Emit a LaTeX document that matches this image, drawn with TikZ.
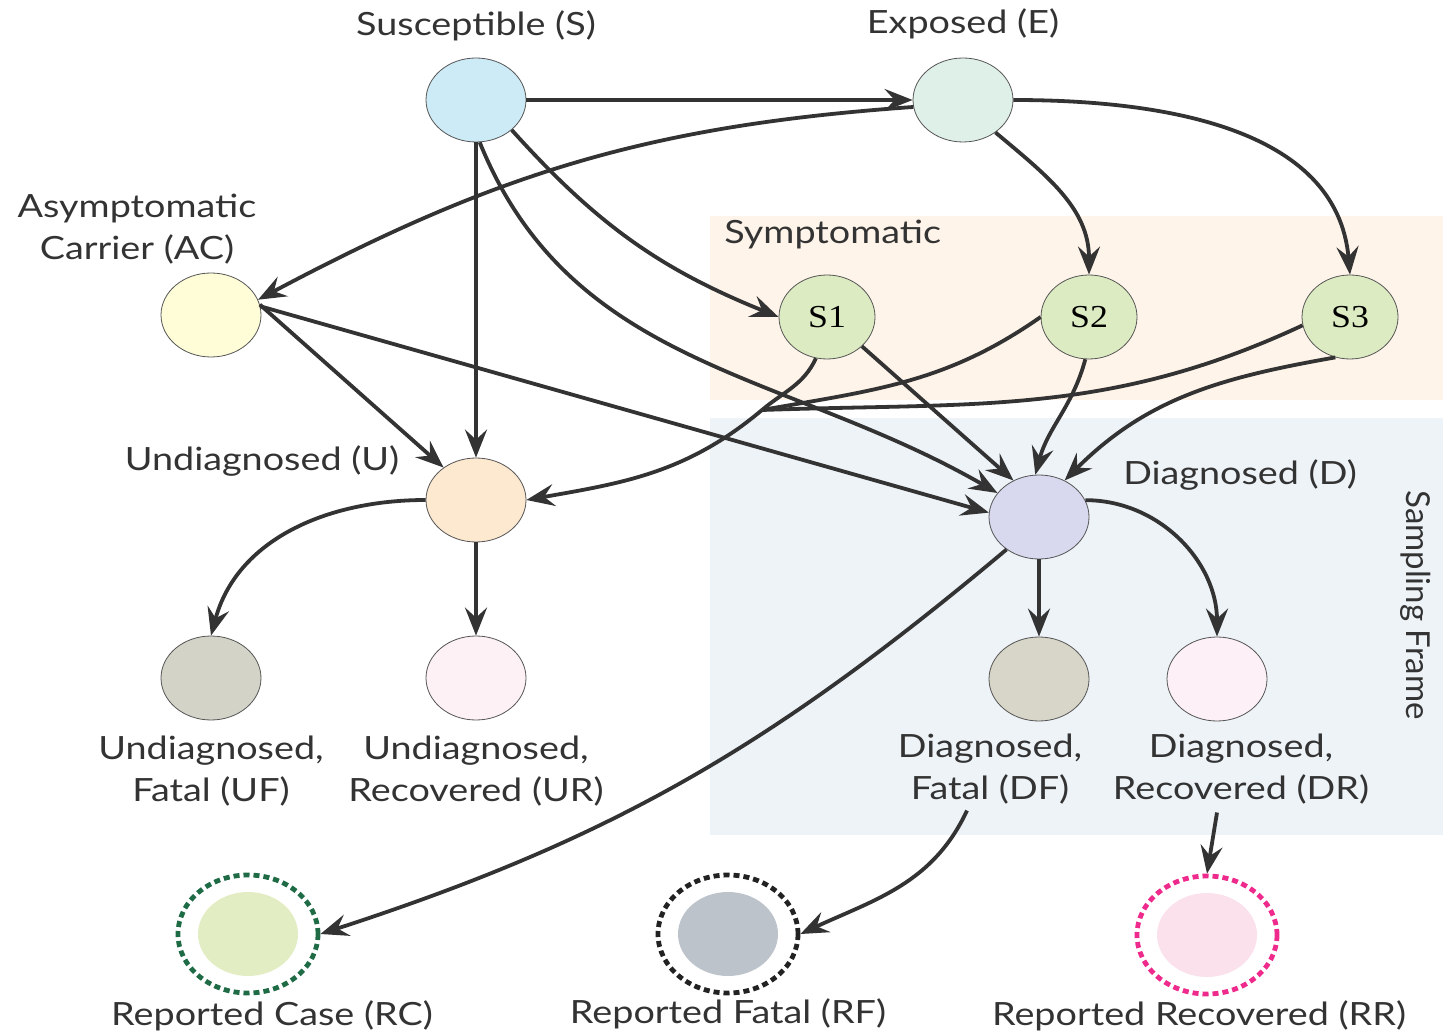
\documentclass[tikz,border=0pt]{standalone}
\usepackage{fontspec}
\setmainfont{Lato}[FakeStretch=1.18]
\newfontfamily\plainfont{Lato}
\newfontfamily\serfont{Liberation Serif}[FakeStretch=1.12]
\usetikzlibrary{shapes.geometric,arrows.meta}
\definecolor{txt}{HTML}{333333}
\definecolor{arrc}{HTML}{333333}
\definecolor{edgec}{HTML}{555555}
\definecolor{symbg}{HTML}{FEF4EA}
\definecolor{sampbg}{HTML}{EEF3F8}
\definecolor{cS}{HTML}{CDEBF7}
\definecolor{cE}{HTML}{DFF0E8}
\definecolor{cAC}{HTML}{FEFDD8}
\definecolor{cSy}{HTML}{DDEBC2}
\definecolor{cU}{HTML}{FDE8D0}
\definecolor{cD}{HTML}{D8D8EF}
\definecolor{cUF}{HTML}{D3D3C8}
\definecolor{cUR}{HTML}{FDF1F6}
\definecolor{cDF}{HTML}{D8D6C8}
\definecolor{cDR}{HTML}{FDF0F6}
\definecolor{cRC}{HTML}{E2EDC3}
\definecolor{cRF}{HTML}{BDC3CA}
\definecolor{cRR}{HTML}{FAE1EC}
\definecolor{dRC}{HTML}{1E6B45}
\definecolor{dRF}{HTML}{222222}
\definecolor{dRR}{HTML}{EE2A8C}
\begin{document}
\begin{tikzpicture}[x=0.5pt,y=-0.5pt,
  state/.style={ellipse, draw=edgec, line width=0.4pt, minimum width=50pt, minimum height=42pt, inner sep=0pt},
  inner/.style={ellipse, minimum width=50pt, minimum height=42pt, inner sep=0pt},
  outer/.style={ellipse, line width=2.4pt, dash pattern=on 3pt off 2pt, minimum width=70pt, minimum height=59pt, inner sep=0pt},
  lbl/.style={text=txt, font=\fontsize{16}{21}\selectfont, align=center, inner sep=0pt},
  arr/.style={line width=1.9pt, draw=arrc, -{Stealth[length=14pt,width=11pt,inset=5pt]}},
  plain/.style={line width=1.9pt, draw=arrc}
]
\useasboundingbox (0,0) rectangle (1443,1036);
% background panels
\fill[symbg] (710,216) rectangle (1443,400);
\fill[sampbg] (710,418) rectangle (1443,835);

% states
\node[state, fill=cS] (S) at (476,100) {};
\node[state, fill=cE] (E) at (963,100) {};
\node[state, fill=cAC] (AC) at (211,315) {};
\node[state, fill=cSy, minimum width=48pt] (S1) at (827,317) {\serfont\fontsize{16}{16}\selectfont S1};
\node[state, fill=cSy, minimum width=48pt] (S2) at (1089,317) {\serfont\fontsize{16}{16}\selectfont S2};
\node[state, fill=cSy, minimum width=48pt] (S3) at (1350,317) {\serfont\fontsize{16}{16}\selectfont S3};
\node[state, fill=cU] (U) at (476,500) {};
\node[state, fill=cD] (D) at (1039,517) {};
\node[state, fill=cUF] (UF) at (211,678) {};
\node[state, fill=cUR] (UR) at (476,678) {};
\node[state, fill=cDF] (DF) at (1039,679) {};
\node[state, fill=cDR] (DR) at (1217,679) {};
\node[inner, fill=cRC] (RC) at (248,934) {};
\node[outer, draw=dRC] (RCo) at (248,934) {};
\node[inner, fill=cRF] (RF) at (728,934) {};
\node[outer, draw=dRF] (RFo) at (728,934) {};
\node[inner, fill=cRR] (RR) at (1207,935) {};
\node[outer, draw=dRR] (RRo) at (1207,935) {};

% labels
\node[lbl] (Sl) at (476,26) {Susceptible (S)};
\node[lbl] (El) at (963,24) {Exposed (E)};
\node[lbl] (ACl) at (137,229) {Asymptomatic\\Carrier (AC)};
\node[lbl, anchor=west] (Syl) at (724,235) {Symptomatic};
\node[lbl] (Ul) at (262,461) {Undiagnosed (U)};
\node[lbl] (Dl) at (1240,475) {Diagnosed (D)};
\node[lbl] (UFl) at (211,771) {Undiagnosed,\\Fatal (UF)};
\node[lbl] (URl) at (476,771) {Undiagnosed,\\Recovered (UR)};
\node[lbl] (DFl) at (990,769) {Diagnosed,\\Fatal (DF)};
\node[lbl] (DRl) at (1241,769) {Diagnosed,\\Recovered (DR)};
\node[lbl] (RCl) at (272,1016) {Reported Case (RC)};
\node[lbl] (RFl) at (728,1014) {Reported Fatal (RF)};
\node[lbl] (RRl) at (1199,1016) {Reported Recovered (RR)};
\node[lbl, rotate=-90, font=\plainfont\fontsize{16.5}{21}\selectfont] (SFl) at (1416,605) {Sampling Frame};

% connectors
\coordinate (J) at (762,410);
\draw[arr] (S) -- (E);
\draw[arr] (E.188) to[out=184,in=28] (AC.18);
\draw[arr] (E.-45) to[out=-40,in=90] (S2.north);
\draw[arr] (E.east) to[out=0,in=95] (S3.north);
\draw[arr] (S.-40) to[out=-48,in=158] (S1.west);
\draw[arr] (S.south) -- (U.north);
\draw[arr] (S.-85) to[out=-68,in=150] (D.150);
\draw[arr] (AC.12) -- (U.135);
\draw[arr] (AC.10) -- (D.175);
\draw[plain] (S1.-105) to[out=-115,in=40] (J);
\draw[arr] (J) to[out=220,in=10] (U.east);
\draw[plain] (S2.west) to[out=-145,in=10] (J);
\draw[plain] (S3.190) to[out=-155,in=2] (J);
\draw[arr] (S1.-40) -- (D.125);
\draw[arr] (S2.-95) to[out=-105,in=75] (D.95);
\draw[arr] (S3.-110) to[out=190,in=45] (D.55);
\draw[arr] (D.south) -- (DF.north);
\draw[arr] (D.20) to[out=0,in=90] (DR.north);
\draw[arr] (D.225) to[out=-140,in=18] (RCo.east);
\draw[arr] (U.west) to[out=180,in=75] (UF.north);
\draw[arr] (U.south) -- (UR.north);
\draw[arr] ([shift={(-23,6)}]DFl.south) to[out=-115,in=25] (RFo.east);
\draw[arr] ([shift={(-24,8)}]DRl.south) -- (RRo.north);
\end{tikzpicture}
\end{document}
